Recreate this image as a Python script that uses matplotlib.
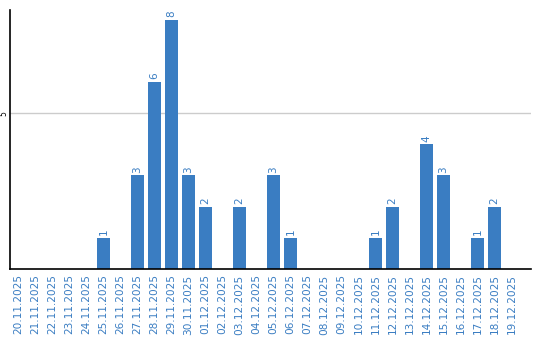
import matplotlib.pyplot as plt
import numpy as np

# Daily counts, 20.11.2025 - 19.12.2025
dates = ['20.11.2025', '21.11.2025', '22.11.2025', '23.11.2025', '24.11.2025',
         '25.11.2025', '26.11.2025', '27.11.2025', '28.11.2025', '29.11.2025',
         '30.11.2025', '01.12.2025', '02.12.2025', '03.12.2025', '04.12.2025',
         '05.12.2025', '06.12.2025', '07.12.2025', '08.12.2025', '09.12.2025',
         '10.12.2025', '11.12.2025', '12.12.2025', '13.12.2025', '14.12.2025',
         '15.12.2025', '16.12.2025', '17.12.2025', '18.12.2025', '19.12.2025']
counts = [0, 0, 0, 0, 0, 1, 0, 3, 6, 8, 3, 2, 0, 2, 0, 3, 1, 0, 0, 0,
          0, 1, 2, 0, 4, 3, 0, 1, 2, 0]

blue = '#3a7dc2'

fig = plt.figure(figsize=(5.4, 3.4), dpi=100)
ax = fig.add_axes([10 / 540, 0.209, 521 / 540, 0.761])

x = np.arange(len(dates))
ax.bar(x, counts, width=0.82, color=blue, zorder=2)

for xi, v in zip(x, counts):
    if v > 0:
        ax.text(xi, v + 0.08, str(v), rotation=90, ha='center', va='bottom',
                color=blue, fontsize=7.5)

# categories fill ~17px slots, plot area runs a bit past the last one
ax.set_xlim(-0.5, -0.5 + 521 / 17)
ax.set_ylim(0, 8.3)
ax.set_xticks(x)
ax.set_xticklabels(dates, rotation=90, color=blue, fontsize=7.6)
ax.set_yticks([5])
ax.set_yticklabels(['5'], rotation=90, fontsize=5.5, va='center')
ax.tick_params(axis='x', length=0, pad=4)
ax.tick_params(axis='y', length=0, pad=1)
ax.grid(axis='y', color='#cccccc', linewidth=1, zorder=0)

ax.spines['top'].set_visible(False)
ax.spines['right'].set_visible(False)
ax.spines['left'].set_color('black')
ax.spines['bottom'].set_color('black')
ax.spines['left'].set_linewidth(1.2)
ax.spines['bottom'].set_linewidth(1.2)

fig.savefig('out.png', dpi=100)
